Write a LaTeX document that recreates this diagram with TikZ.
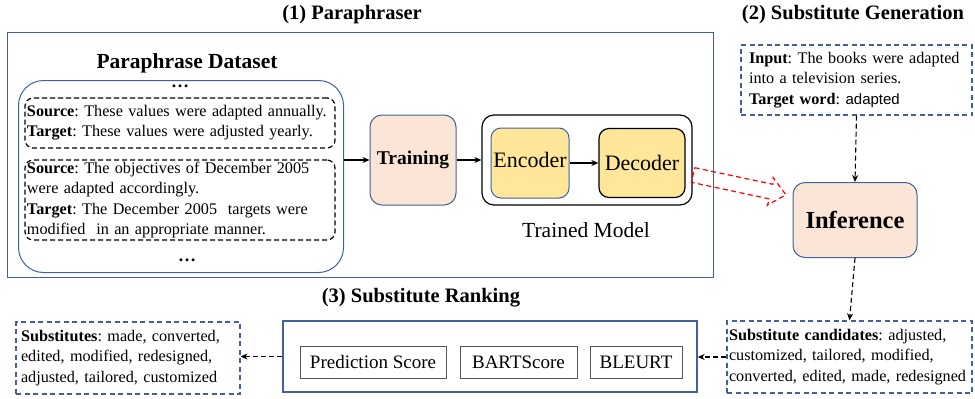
\documentclass[tikz,border=0pt]{standalone}
\usepackage{fontspec}
\setmainfont{Liberation Serif}
\newfontfamily\sansf{Liberation Sans}
\usetikzlibrary{arrows.meta}
\definecolor{bl}{HTML}{41609F}
\definecolor{peach}{HTML}{FBE5D6}
\definecolor{yel}{HTML}{FFE699}
\definecolor{gr}{HTML}{555555}
\frenchspacing
\begin{document}
\begin{tikzpicture}[x=1pt,y=-1pt,
  blbox/.style={draw=bl, line width=1.4pt},
  dbox/.style={draw=black, line width=1.2pt, dash pattern=on 5pt off 3pt, rounded corners=8pt},
  bdbox/.style={draw=bl, line width=1.2pt, dash pattern=on 5pt off 3.5pt},
  txt/.style={font=\fontsize{16.2}{20.3}\selectfont, align=left, inner ysep=0pt},
  ttl/.style={font=\fontsize{20.5}{22}\selectfont\bfseries, inner sep=0pt},
  arr/.style={-{Stealth[length=7pt,width=6pt]}, line width=1.1pt},
  darr/.style={arr, dash pattern=on 5pt off 3pt},
  scbox/.style={draw=gr, line width=1pt, minimum height=32pt, inner sep=0pt, font=\fontsize{19}{20}\selectfont},
  pbox/.style={draw=bl, fill=peach, line width=1pt, rounded corners=12pt}
]
\useasboundingbox (0,0) rectangle (975,399);
% (1) Paraphraser
\node[ttl] (t1) at (352,15) {(1) Paraphraser};
\node[blbox, minimum width=706pt, minimum height=245pt, anchor=north west] (p1) at (7,32) {};
\node[ttl, font=\fontsize{21.5}{22}\selectfont\bfseries] (dst) at (187,63) {Paraphrase Dataset};
\node[draw=bl, line width=1pt, rounded corners=25pt, minimum width=325pt, minimum height=192pt, anchor=north west] (ds) at (18,80) {};
\node[font=\fontsize{18}{18}\selectfont\bfseries, inner sep=0pt] (dot1) at (180,86) {\ldots};
\node[font=\fontsize{18}{18}\selectfont\bfseries, inner sep=0pt] (dot2) at (187,260) {\ldots};
\node[dbox, txt, text width=306pt, inner xsep=2pt, minimum height=50pt] (s1) at (180,123)
  {\textbf{Source}: These values were adapted annually.\\\textbf{Target}: These values were adjusted yearly.};
\node[dbox, txt, text width=306pt, inner xsep=2pt, minimum height=80pt] (s2) at (180,200)
  {\textbf{Source}: The objectives of December 2005\\were adapted accordingly.\\\textbf{Target}: The December 2005\ \ targets were\\modified\ \ in an appropriate manner.};
\node[pbox, minimum width=86pt, minimum height=90pt, font=\fontsize{19.5}{20}\selectfont\bfseries] (tr) at (413,160) {Training};
\node[draw, line width=1.2pt, rounded corners=12pt, minimum width=210pt, minimum height=90pt] (tm) at (587,160) {};
\node[draw=bl, fill=yel, line width=1pt, rounded corners=10pt, minimum width=78pt, minimum height=70pt] (enc) at (530,163) {};
\node[font=\fontsize{22}{22}\selectfont, inner sep=0pt] (enct) at (530,160) {Encoder};
\node[draw, fill=yel, line width=1.2pt, rounded corners=10pt, minimum width=86pt, minimum height=69pt, font=\fontsize{22}{22}\selectfont] (dec) at (642,163) {Decoder};
\node[font=\fontsize{21.5}{22}\selectfont, inner sep=0pt] (tml) at (586,230) {Trained Model};
\draw[arr] (ds.east |- tr) -- (tr.west);
\draw[arr] (tr.east) -- (tm.west |- tr);
\draw[arr] (enc.east) -- (dec.west |- enc.east);
% red hollow arrow
\begin{scope}[shift={(693,175)}, rotate=-12]
\draw[red, line width=1.2pt, dash pattern=on 5pt off 3.5pt]
  (0,-7.5) -- (80,-7.5) -- (79,-14) -- (95,0) -- (79,14) -- (80,7.5) -- (0,7.5) -- cycle;
\end{scope}
% (2) Substitute Generation
\node[ttl] (t2) at (853,15) {(2) Substitute Generation};
\node[bdbox, txt, text width=215pt, inner xsep=8pt, minimum height=70pt] (inp) at (856.5,80)
  {\textbf{Input}: The books were adapted\\into a television series.\\\textbf{Target word}: {\sansf\fontsize{15}{20}\selectfont adapted}};
\node[pbox, minimum width=124pt, minimum height=75pt, font=\fontsize{24.5}{26}\selectfont\bfseries] (inf) at (855,220) {Inference};
\node[bdbox, txt, text width=241pt, inner xsep=2pt, minimum height=72pt] (cand) at (849.5,357)
  {\textbf{Substitute candidates}: adjusted,\\customized, tailored, modified,\\converted, edited, made, redesigned};
\draw[darr] (inp.south) -- (inf.north);
\draw[darr] (inf.south) -- (cand.north);
% (3) Substitute Ranking
\node[ttl] (t3) at (421,298) {(3) Substitute Ranking};
\node[blbox, minimum width=414pt, minimum height=71pt] (rank) at (490,356.5) {};
\node[scbox, minimum width=146pt] (ps) at (373,362) {Prediction Score};
\node[scbox, minimum width=117pt] (bs) at (518.5,362) {BARTScore};
\node[scbox, minimum width=92pt] (bl) at (636,362) {BLEURT};
\node[bdbox, txt, text width=214pt, inner xsep=5pt, minimum height=72pt] (subs) at (128,358)
  {\textbf{Substitutes}: made, converted,\\edited, modified, redesigned,\\adjusted, tailored, customized};
\draw[darr] (cand.west) -- (rank.east |- cand.west);
\draw[darr] (rank.west) -- (subs.east |- rank.west);
\end{tikzpicture}
\end{document}
